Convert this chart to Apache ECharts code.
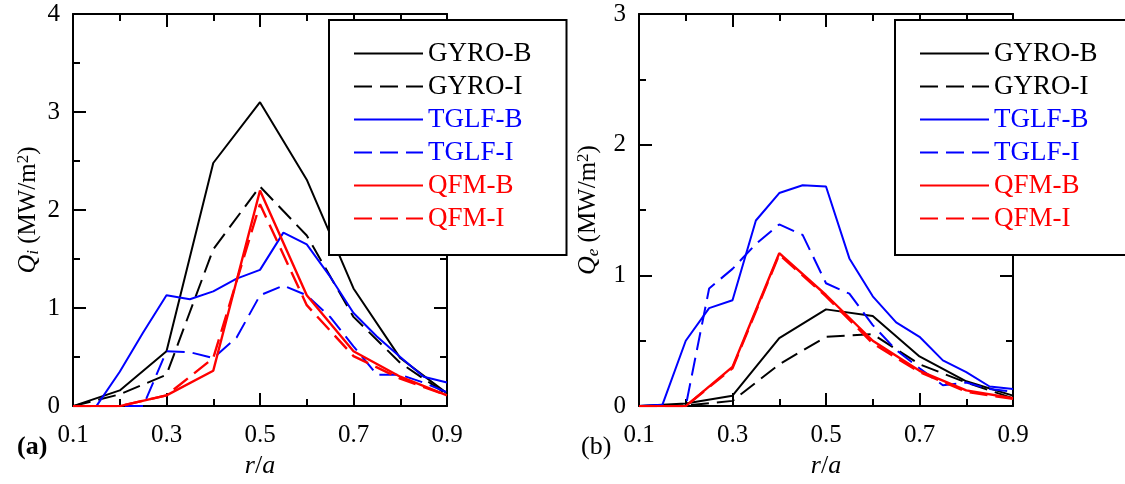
<!DOCTYPE html>
<html>

<head>
    <meta charset="utf-8" />
    <title>Qi / Qe profiles</title>
    <script src="https://cdn.jsdelivr.net/npm/echarts@6/dist/echarts.min.js"></script>
</head>

<body style="margin:0;background:#fff;">
    <div id="chart" style="width:1125px;height:484px;"></div>
    <script type="text/javascript">
        // radial grids
        var rCoarse = [0.1, 0.2, 0.3, 0.4, 0.5, 0.6, 0.7, 0.8, 0.9];
        var rFine = [0.1, 0.15, 0.2, 0.25, 0.3, 0.35, 0.4, 0.45, 0.5, 0.55, 0.6, 0.65, 0.7, 0.75, 0.8, 0.85, 0.9];

        // (a) ion heat flux Qi, coarse grid for GYRO / QFM, fine grid for TGLF
        var qiGyroB = [0, 0.16, 0.56, 2.48, 3.10, 2.31, 1.20, 0.49, 0.13];
        var qiGyroI = [0, 0.12, 0.32, 1.60, 2.24, 1.74, 0.91, 0.44, 0.12];
        var qiTglfB = [0, 0, 0.35, 0.75, 1.13, 1.09, 1.17, 1.30, 1.39, 1.77, 1.65, 1.32, 0.95, 0.71, 0.50, 0.30, 0.24];
        var qiTglfI = [0, 0, 0, 0, 0.56, 0.55, 0.49, 0.70, 1.13, 1.23, 1.13, 0.91, 0.61, 0.32, 0.32, 0.24, 0.14];
        var qiQfmB = [0, 0, 0.11, 0.36, 2.20, 1.13, 0.56, 0.30, 0.11];
        var qiQfmI = [0, 0, 0.11, 0.49, 2.06, 1.03, 0.51, 0.28, 0.11];

        // (b) electron heat flux Qe
        var qeGyroB = [0, 0.02, 0.08, 0.52, 0.74, 0.69, 0.38, 0.19, 0.08];
        var qeGyroI = [0, 0.005, 0.04, 0.32, 0.53, 0.55, 0.32, 0.18, 0.06];
        var qeTglfB = [0, 0.01, 0.50, 0.75, 0.81, 1.42, 1.63, 1.69, 1.68, 1.13, 0.84, 0.64, 0.53, 0.35, 0.26, 0.15, 0.13];
        var qeTglfI = [0, 0, 0, 0.90, 1.05, 1.24, 1.39, 1.31, 0.94, 0.86, 0.62, 0.43, 0.29, 0.16, 0.18, 0.13, 0.11];
        var qeQfmB = [0, 0, 0.30, 1.17, 0.85, 0.50, 0.27, 0.12, 0.06];
        var qeQfmI = [0, 0, 0.29, 1.16, 0.84, 0.48, 0.26, 0.11, 0.055];

        var names = ['GYRO-B', 'GYRO-I', 'TGLF-B', 'TGLF-I', 'QFM-B', 'QFM-I'];
        var colors = ['#000000', '#000000', '#0000ff', '#0000ff', '#ff0000', '#ff0000'];
        var dashed = [false, true, false, true, false, true];

        var FONT = 'Liberation Serif';

        function pairs(xs, ys) {
            return xs.map(function (x, i) { return [x, ys[i]]; });
        }

        function mkSeries(k, xs, ys, axisIdx) {
            return {
                name: names[k],
                type: 'line',
                xAxisIndex: axisIdx,
                yAxisIndex: axisIdx,
                symbol: 'none',
                animation: false,
                color: colors[k],
                lineStyle: {
                    color: colors[k],
                    width: k >= 4 ? 2.4 : 2,
                    type: dashed[k] ? [18, 8] : 'solid'
                },
                data: pairs(xs, ys)
            };
        }

        var tickStyle = { color: '#000', width: 2 };

        function xAx(gridIdx, top) {
            return {
                type: 'value',
                gridIndex: gridIdx,
                position: top ? 'top' : 'bottom',
                min: 0.1,
                max: 0.9,
                interval: 0.2,
                name: top ? '' : '{i|r}/{i|a}',
                nameLocation: 'middle',
                nameGap: 46,
                nameTextStyle: {
                    fontFamily: FONT, fontSize: 26, color: '#000',
                    rich: { i: { fontFamily: FONT, fontStyle: 'italic', fontSize: 26, color: '#000' } }
                },
                axisLine: { onZero: false, lineStyle: { color: '#000', width: 2 } },
                axisTick: { inside: true, length: 13, lineStyle: tickStyle },
                minorTick: { show: true, splitNumber: 2, length: 7, lineStyle: tickStyle },
                axisLabel: {
                    show: !top,
                    margin: 17,
                    fontFamily: FONT,
                    fontSize: 25,
                    color: '#000',
                    formatter: function (v) { return v.toFixed(1); }
                },
                splitLine: { show: false }
            };
        }

        function yAx(gridIdx, right, max, nameText, gap) {
            return {
                type: 'value',
                gridIndex: gridIdx,
                position: right ? 'right' : 'left',
                min: 0,
                max: max,
                interval: 1,
                name: right ? '' : nameText,
                nameLocation: 'middle',
                nameGap: gap,
                nameTextStyle: {
                    fontFamily: FONT, fontSize: 25, color: '#000',
                    rich: {
                        i: { fontFamily: FONT, fontStyle: 'italic', fontSize: 26, color: '#000' },
                        sub: { fontFamily: FONT, fontStyle: 'italic', fontSize: 17, color: '#000', verticalAlign: 'bottom', padding: [10, 0, 0, 0] },
                        n: { fontFamily: FONT, fontSize: 25, color: '#000' },
                        sup: { fontFamily: FONT, fontSize: 17, color: '#000', verticalAlign: 'top', padding: [0, 0, 10, 0] }
                    }
                },
                axisLine: { onZero: false, lineStyle: { color: '#000', width: 2 } },
                axisTick: { inside: true, length: 13, lineStyle: tickStyle },
                minorTick: { show: true, splitNumber: 2, length: 7, lineStyle: tickStyle },
                axisLabel: { show: !right, margin: 13, fontFamily: FONT, fontSize: 25, color: '#000' },
                splitLine: { show: false }
            };
        }

        function legendAt(left, padRight) {
            return {
                orient: 'vertical',
                left: left,
                top: 20,
                padding: [20, padRight, 23, 24],
                itemWidth: 69,
                itemHeight: 14,
                itemGap: 6,
                backgroundColor: '#fff',
                borderColor: '#000',
                borderWidth: 2,
                borderRadius: 0,
                selectedMode: false,
                itemStyle: { opacity: 0 },
                textStyle: { fontFamily: FONT, fontSize: 27, lineHeight: 27 },
                data: names.map(function (n, k) {
                    return { name: n, textStyle: { color: colors[k] } };
                })
            };
        }

        var chart = echarts.init(document.getElementById('chart'));

        var series = [
            mkSeries(0, rCoarse, qiGyroB, 0),
            mkSeries(1, rCoarse, qiGyroI, 0),
            mkSeries(2, rFine, qiTglfB, 0),
            mkSeries(3, rFine, qiTglfI, 0),
            mkSeries(4, rCoarse, qiQfmB, 0),
            mkSeries(5, rCoarse, qiQfmI, 0),
            mkSeries(0, rCoarse, qeGyroB, 2),
            mkSeries(1, rCoarse, qeGyroI, 2),
            mkSeries(2, rFine, qeTglfB, 2),
            mkSeries(3, rFine, qeTglfI, 2),
            mkSeries(4, rCoarse, qeQfmB, 2),
            mkSeries(5, rCoarse, qeQfmI, 2)
        ];

        var option = {
            backgroundColor: '#fff',
            animation: false,
            grid: [
                { left: 73, top: 14, width: 374, height: 397 },
                { left: 639, top: 14, width: 374, height: 397 }
            ],
            xAxis: [xAx(0, false), xAx(0, true), xAx(1, false), xAx(1, true)],
            yAxis: [
                yAx(0, false, 4, '{i|Q}{sub|i}{n| (MW/m}{sup|2}{n|)}', 31),
                yAx(0, true, 4),
                yAx(1, false, 3, '{i|Q}{sub|e}{n| (MW/m}{sup|2}{n|)}', 37),
                yAx(1, true, 3)
            ],
            legend: [legendAt(329, 35), legendAt(895, 60)],
            graphic: [
                { type: 'text', left: 17, top: 434, style: { text: '(a)', fontFamily: FONT, fontWeight: 'bold', fontSize: 26, fill: '#000' } },
                { type: 'text', left: 581, top: 434, style: { text: '(b)', fontFamily: FONT, fontSize: 26, fill: '#000' } }
            ],
            series: series
        };
        chart.setOption(option, true);
    </script>
</body>

</html>
